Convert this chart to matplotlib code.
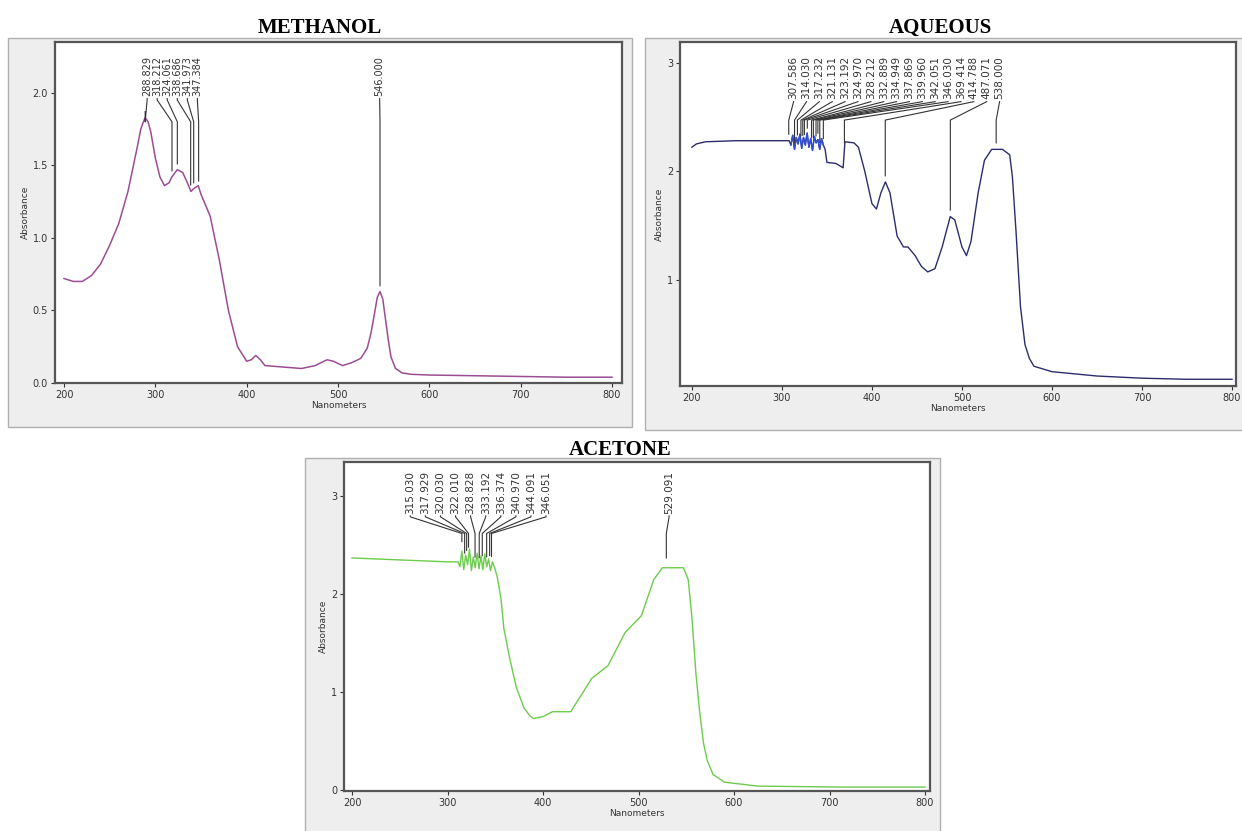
import numpy as np
import matplotlib
matplotlib.use("Agg")
import matplotlib.pyplot as plt
from matplotlib.patches import Rectangle

W, H = 1242, 831

# ---- METHANOL ----
meth_x = [200, 210, 220, 230, 240, 250, 260, 270, 280, 284, 288.8, 292, 295, 300, 305, 310, 315,
          318, 324, 330, 335, 339, 342, 347, 350, 360, 370, 380, 390, 400, 405, 410,
          415, 420, 440, 460, 475, 488, 495, 505, 515, 525, 532, 536, 540, 543, 546, 549, 552,
          555, 558, 563, 570, 580, 600, 650, 700, 750, 800]
meth_y = [0.72, 0.70, 0.70, 0.74, 0.82, 0.95, 1.10, 1.32, 1.62, 1.75, 1.83, 1.80, 1.73, 1.55, 1.42, 1.36, 1.38,
          1.42, 1.47, 1.45, 1.38, 1.32, 1.34, 1.36, 1.30, 1.15, 0.85, 0.50, 0.25, 0.15, 0.16, 0.19,
          0.16, 0.12, 0.11, 0.10, 0.12, 0.16, 0.15, 0.12, 0.14, 0.17, 0.24, 0.34, 0.48, 0.59, 0.63, 0.58, 0.44,
          0.30, 0.18, 0.10, 0.07, 0.06, 0.055, 0.05, 0.045, 0.04, 0.04]
meth_peaks = [288.829, 318.212, 324.061, 338.686, 341.973, 347.384, 546.000]

# ---- AQUEOUS ----
aq_x = [200, 205, 215, 250, 300, 308,
        310, 312, 314, 316, 318, 320, 322, 324, 326, 328, 330, 332, 334, 336, 338, 340, 342, 344, 346,
        348, 350, 360, 368, 370, 380, 385, 392, 400, 405, 410, 415, 420, 428, 435, 440, 448, 455,
        462, 470, 478, 487, 492, 500, 505, 510, 518, 525, 533, 545, 553, 556, 560, 565, 570, 575, 580,
        600, 650, 700, 750, 800]
aq_y = [2.22, 2.25, 2.27, 2.28, 2.28, 2.28,
        2.24, 2.33, 2.20, 2.31, 2.25, 2.34, 2.21, 2.31, 2.24, 2.35, 2.22, 2.30, 2.19, 2.32, 2.26, 2.29, 2.20, 2.30, 2.24,
        2.20, 2.08, 2.07, 2.03, 2.27, 2.26, 2.22, 2.00, 1.70, 1.65, 1.80, 1.90, 1.80, 1.40, 1.30, 1.30, 1.22, 1.12,
        1.07, 1.10, 1.30, 1.58, 1.55, 1.30, 1.22, 1.35, 1.80, 2.10, 2.20, 2.20, 2.15, 1.95, 1.45, 0.75, 0.40, 0.27, 0.20,
        0.15, 0.11, 0.09, 0.08, 0.08]
aq_peaks = [307.586, 314.030, 317.232, 321.131, 323.192, 324.970, 328.212, 332.889, 334.949,
            337.869, 339.960, 342.051, 346.030, 369.414, 414.788, 487.071, 538.000]

# ---- ACETONE ----
ac_x = [200, 250, 300, 311,
        313, 315, 317, 319, 321, 323, 325, 327, 329, 331, 333, 335, 337, 339, 341, 343, 345, 347,
        349, 352, 356, 359, 365, 372, 380, 386, 390, 400, 410, 416, 429, 442, 451, 468, 486, 503, 516,
        525, 547, 552, 556, 560, 564, 568, 572, 578, 590, 625, 713, 800]
ac_y = [2.37, 2.35, 2.33, 2.33,
        2.28, 2.44, 2.25, 2.40, 2.30, 2.46, 2.24, 2.38, 2.27, 2.42, 2.26, 2.39, 2.25, 2.41, 2.28, 2.36, 2.24, 2.33,
        2.28, 2.18, 1.95, 1.65, 1.35, 1.05, 0.84, 0.76, 0.73, 0.75, 0.80, 0.80, 0.80, 1.00, 1.14, 1.27, 1.61, 1.78, 2.15,
        2.27, 2.27, 2.15, 1.75, 1.20, 0.80, 0.48, 0.30, 0.16, 0.08, 0.04, 0.03, 0.03]
ac_peaks = [315.030, 317.929, 320.030, 322.010, 328.828, 333.192, 336.374, 340.970, 344.091,
            346.051, 529.091]


def px_axes(fig, left, top, right, bottom):
    ax = fig.add_axes([left / W, 1 - bottom / H, (right - left) / W, (bottom - top) / H])
    ax.set_zorder(2)
    return ax


def panel(fig, left, top, right, bottom):
    fig.patches.append(Rectangle((left / W, 1 - bottom / H), (right - left) / W, (bottom - top) / H,
                                 transform=fig.transFigure, facecolor="#eeeeee",
                                 edgecolor="#b0b0b0", linewidth=1.0, zorder=-5))


def style(ax, xlim, ylim, yticks, yfmt):
    ax.set_xlim(*xlim)
    ax.set_ylim(*ylim)
    ax.set_xticks([200, 300, 400, 500, 600, 700, 800])
    ax.set_yticks(yticks)
    ax.set_yticklabels([yfmt.format(v) for v in yticks])
    ax.tick_params(labelsize=7, colors="#333333", length=3, width=0.8, pad=2)
    for s in ax.spines.values():
        s.set_color("#555555")
        s.set_linewidth(1.6)
    ax.set_xlabel("Nanometers", fontsize=6.5, color="#333333", labelpad=1)
    ax.set_ylabel("Absorbance", fontsize=6.5, color="#333333", labelpad=2)


def label_peaks(ax, peaks, xs, ys, label_x, label_y, knee_y, gap=0.05, fs=7.5):
    for p, lx in zip(peaks, label_x):
        end = np.interp(p, xs, ys) + gap
        ax.plot([lx, lx, p, p], [label_y - 0.02, knee_y[0], knee_y[1], end],
                color="#333333", lw=0.8, zorder=3)
        ax.text(lx, label_y, f"{p:.3f}", rotation=90, ha="center", va="bottom",
                fontsize=fs, color="#333333")


fig = plt.figure(figsize=(W / 100, H / 100), dpi=100)
fig.patch.set_facecolor("white")

panel(fig, 8, 38, 632, 427)
panel(fig, 645, 38, 1250, 430)
panel(fig, 305, 458, 940, 840)

title_kw = dict(fontsize=15, fontweight="bold", family="Liberation Serif", ha="center", va="center")
fig.text(320 / W, 1 - 28 / H, "METHANOL", **title_kw)
fig.text(940 / W, 1 - 28 / H, "AQUEOUS", **title_kw)
fig.text(620 / W, 1 - 450 / H, "ACETONE", **title_kw)

# methanol
ax1 = px_axes(fig, 55, 42, 622, 383)
ax1.plot(meth_x, meth_y, color="#9a4d94", lw=1.1)
style(ax1, (190.1, 811), (0, 2.35), [0.0, 0.5, 1.0, 1.5, 2.0], "{:.1f}")
lx1 = [291 + 11 * i for i in range(6)] + [545.6]
label_peaks(ax1, meth_peaks, meth_x, meth_y, lx1, 1.98, (1.95, 1.80), gap=0.04, fs=7)

# aqueous
ax2 = px_axes(fig, 680, 42, 1236, 386)
ax2.plot(aq_x, aq_y, color="#2c2c6c", lw=1.0)
blue = [i for i, v in enumerate(aq_x) if 309 <= v <= 347]
ax2.plot([aq_x[i] for i in blue], [aq_y[i] for i in blue], color="#2f4fd8", lw=1.0)
style(ax2, (186.8, 804.4), (0.018, 3.19), [1, 2, 3], "{:d}")
lx2 = [313 + 14.3 * i for i in range(17)]
label_peaks(ax2, aq_peaks, aq_x, aq_y, lx2, 2.66, (2.64, 2.47), gap=0.06, fs=7.5)

# acetone
ax3 = px_axes(fig, 344, 462, 930, 791)
ax3.plot(ac_x, ac_y, color="#6ccc4c", lw=1.0)
style(ax3, (191.6, 805.2), (-0.01, 3.35), [0, 1, 2, 3], "{:d}")
lx3 = [261 + 15.8 * i for i in range(10)] + [532]
label_peaks(ax3, ac_peaks, ac_x, ac_y, lx3, 2.82, (2.79, 2.62), gap=0.1, fs=7.5)

fig.savefig("out.png", dpi=100)
